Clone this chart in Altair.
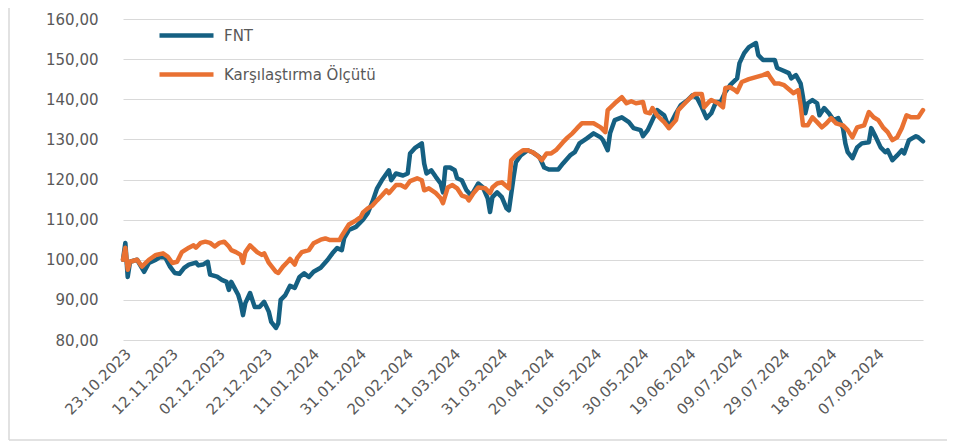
import altair as alt
import pandas as pd

start_date = "2023-10-23"
series_names = ["FNT", "Karşılaştırma Ölçütü"]
series_colors = ["#156082", "#E97132"]

fnt_day = [0, 1, 2, 3, 6, 9, 11, 14, 16, 18, 20, 22, 24, 26, 28, 31, 32, 34, 36, 37, 40, 42, 44, 45, 46,
           49, 50, 51, 52, 54, 56, 58, 60, 62, 63, 65, 66, 67, 69, 71, 73, 75, 77, 79, 81, 84, 87, 89, 91,
           93, 94, 96, 99, 102, 104, 106, 108, 110, 113, 114, 116, 119, 121, 122, 124, 127, 128, 129, 131,
           133, 135, 136, 137, 139, 141, 142, 144, 146, 148, 151, 153, 155, 156, 157, 159, 161, 163, 164,
           166, 167, 169, 172, 174, 177, 179, 181, 185, 187, 190, 192, 194, 197, 200, 203, 204, 206, 207,
           209, 212, 215, 217, 220, 221, 223, 225, 227, 230, 232, 235, 237, 240, 242, 244, 246, 248, 250,
           252, 254, 256, 258, 261, 262, 264, 266, 269, 270, 272, 275, 277, 278, 280, 283, 284, 286, 288,
           289, 290, 291, 293, 295, 296, 298, 300, 302, 304, 306, 307, 308, 310, 312, 314, 317, 318, 320,
           322, 324, 325, 327, 329, 331, 332, 334, 337, 338, 340]
fnt_val = [100.0, 104.2, 95.7, 99.5, 100.0, 97.0, 99.2, 100.0, 100.8, 100.5, 98.3, 96.7, 96.5, 98.0, 98.8,
           99.3, 98.6, 98.8, 99.5, 96.3, 95.8, 95.0, 94.5, 92.5, 94.5, 91.2, 89.2, 86.2, 89.2, 91.7, 88.2,
           88.2, 89.5, 87.0, 84.5, 83.0, 84.2, 90.0, 91.2, 93.5, 93.0, 95.7, 96.6, 95.7, 97.0, 98.0, 100.0,
           101.6, 102.9, 102.4, 105.4, 107.4, 108.2, 110.0, 111.6, 114.4, 117.8, 119.8, 122.3, 119.8, 121.5,
           121.0, 121.5, 126.5, 127.8, 129.0, 124.0, 121.5, 122.3, 120.6, 119.0, 116.8, 123.0, 123.0, 122.3,
           120.3, 119.8, 117.3, 116.0, 119.0, 118.0, 115.3, 111.9, 115.6, 116.8, 115.6, 112.8, 112.3, 120.6,
           124.3, 126.0, 127.3, 126.8, 125.6, 123.0, 122.5, 122.5, 124.0, 126.0, 126.8, 129.0, 130.2, 131.5,
           130.5, 129.8, 127.3, 131.5, 134.8, 135.5, 134.3, 132.8, 132.3, 130.8, 132.3, 134.8, 137.3, 136.0,
           133.0, 136.5, 138.5, 139.8, 141.0, 140.3, 138.0, 135.3, 136.5, 139.3, 139.3, 141.8, 143.5, 145.2,
           149.0, 151.5, 153.0, 154.0, 151.0, 149.8, 149.8, 149.8, 147.8, 147.3, 146.5, 145.2, 146.0, 143.9,
           140.5, 136.5, 139.0, 139.8, 139.0, 136.0, 137.8, 136.5, 134.8, 135.3, 132.8, 129.0, 126.8, 125.3,
           128.0, 129.0, 129.3, 132.8, 130.5, 128.0, 126.8, 127.3, 124.8, 126.0, 127.3, 126.5, 129.8, 130.8,
           130.5, 129.5]

bm_day = [0, 1, 2, 3, 6, 8, 11, 14, 17, 19, 21, 23, 25, 28, 30, 31, 33, 35, 37, 39, 41, 43, 45, 46, 48,
          50, 51, 52, 54, 57, 59, 60, 62, 65, 66, 68, 70, 71, 73, 74, 76, 79, 81, 84, 86, 88, 92, 93, 96,
          99, 101, 102, 104, 106, 108, 110, 112, 113, 116, 118, 120, 122, 125, 127, 128, 130, 133, 135, 136,
          138, 140, 142, 144, 146, 147, 149, 151, 154, 156, 157, 159, 161, 164, 165, 167, 170, 172, 174,
          176, 178, 180, 182, 184, 187, 189, 191, 193, 195, 198, 200, 203, 205, 206, 209, 212, 214, 216,
          218, 221, 222, 224, 225, 227, 230, 232, 235, 236, 238, 241, 243, 246, 247, 249, 250, 253, 255,
          256, 258, 260, 261, 263, 266, 269, 272, 274, 275, 277, 279, 281, 283, 285, 287, 288, 289, 291,
          293, 295, 297, 299, 301, 303, 306, 308, 310, 312, 315, 317, 319, 321, 323, 325, 327, 329, 331,
          333, 335, 338, 340]
bm_val = [100.0, 103.0, 97.5, 99.5, 100.0, 98.3, 100.0, 101.2, 101.6, 100.8, 99.2, 99.5, 101.9, 103.0,
          103.6, 103.0, 104.2, 104.5, 104.2, 103.3, 104.2, 104.5, 103.3, 102.4, 101.9, 101.2, 99.2, 101.9,
          103.6, 101.9, 101.2, 101.6, 99.2, 97.0, 96.7, 98.3, 99.5, 100.2, 98.8, 100.4, 101.9, 102.4, 104.1,
          105.0, 105.3, 104.9, 104.9, 106.0, 108.8, 109.8, 110.6, 111.8, 112.8, 113.5, 114.8, 116.0, 117.3,
          116.6, 118.6, 118.6, 118.0, 119.6, 120.3, 119.8, 117.3, 117.8, 116.6, 115.3, 114.1, 118.0, 118.6,
          117.8, 116.0, 115.6, 114.8, 116.6, 118.0, 117.8, 116.6, 118.0, 119.0, 119.3, 117.8, 124.8, 126.0,
          127.3, 127.3, 126.8, 126.0, 124.8, 126.5, 126.5, 127.3, 129.3, 130.5, 131.5, 132.8, 134.0, 134.0,
          134.0, 133.0, 131.8, 137.3, 139.0, 140.5, 139.0, 139.5, 139.0, 139.3, 136.8, 136.5, 137.8, 136.0,
          134.3, 132.8, 134.8, 137.3, 138.5, 140.3, 141.3, 141.3, 138.0, 139.3, 139.8, 139.0, 138.0, 142.8,
          143.0, 142.3, 141.8, 144.3, 145.0, 145.5, 146.0, 146.5, 145.5, 143.9, 143.9, 143.5, 142.5, 141.5,
          142.3, 138.5, 133.5, 133.5, 135.5, 134.3, 133.0, 134.0, 135.3, 134.0, 133.5, 132.3, 130.5, 133.0,
          133.5, 136.8, 135.5, 134.8, 133.0, 131.8, 129.8, 130.5, 132.8, 136.0, 135.5, 135.5, 137.3]

x_tick_days = [0, 20, 40, 60, 80, 100, 120, 140, 160, 180, 200, 220, 240, 260, 280, 300, 320]
y_ticks = [80, 90, 100, 110, 120, 130, 140, 150, 160]

start = pd.Timestamp(start_date)
frames = []
for name, days, vals in [(series_names[0], fnt_day, fnt_val), (series_names[1], bm_day, bm_val)]:
    d = pd.DataFrame({"day": days, "value": vals})
    d["series"] = name
    d["date"] = (start + pd.to_timedelta(d["day"], unit="D")).dt.strftime("%d.%m.%Y")
    frames.append(d)
df = pd.concat(frames, ignore_index=True)

FONT = "DejaVu Sans"
TXT = "#595959"
GRID = "#D9D9D9"

x_label_expr = (
    f"utcFormat(utc({start.year}, {start.month - 1}, {start.day}) + datum.value * 86400000, '%d.%m.%Y')"
)

lines = alt.Chart(df).mark_line(strokeWidth=4.5, strokeJoin="round", strokeCap="round").encode(
    x=alt.X("day:Q",
            scale=alt.Scale(domain=[0, 340], nice=False, zero=False),
            axis=alt.Axis(values=x_tick_days, labelExpr=x_label_expr, labelAngle=-45,
                          grid=False, domain=False, ticks=False, labelPadding=6,
                          labelFontSize=15, labelFont=FONT, labelColor=TXT, labelFlush=False,
                          labelOverlap=False, title=None)),
    y=alt.Y("value:Q",
            scale=alt.Scale(domain=[80, 160], nice=False, zero=False),
            axis=alt.Axis(values=y_ticks, labelExpr="replace(format(datum.value, '.2f'), '.', ',')",
                          grid=True, gridColor=GRID, gridWidth=1, domain=False, ticks=False,
                          labelPadding=25, labelFontSize=15, labelFont=FONT, labelColor=TXT,
                          title=None)),
    color=alt.Color("series:N",
                    scale=alt.Scale(domain=series_names, range=series_colors),
                    legend=alt.Legend(title=None, orient="none", legendX=34, legendY=-13,
                                      direction="vertical", symbolType="stroke", symbolSize=2916,
                                      symbolStrokeWidth=4.5, labelFontSize=15, labelFont=FONT,
                                      labelColor=TXT, labelOffset=8, rowPadding=-8)),
)

one = pd.DataFrame({"k": [0]})
frame_left = alt.Chart(one).mark_rule(color=GRID, strokeWidth=1.5).encode(
    x=alt.value(-114), y=alt.value(-11), y2=alt.value(421))
frame_bottom = alt.Chart(one).mark_rule(color=GRID, strokeWidth=1.5).encode(
    x=alt.value(-114), x2=alt.value(832), y=alt.value(421))

chart = alt.layer(frame_left, frame_bottom, lines).properties(
    width=800, height=321,
    autosize=alt.AutoSizeParams(type="none"),
    padding={"left": 115, "top": 11, "right": 24, "bottom": 101},
    background="white",
).configure_view(stroke=None)

chart.save("out.html", embed_options={"renderer": "svg", "actions": False})
